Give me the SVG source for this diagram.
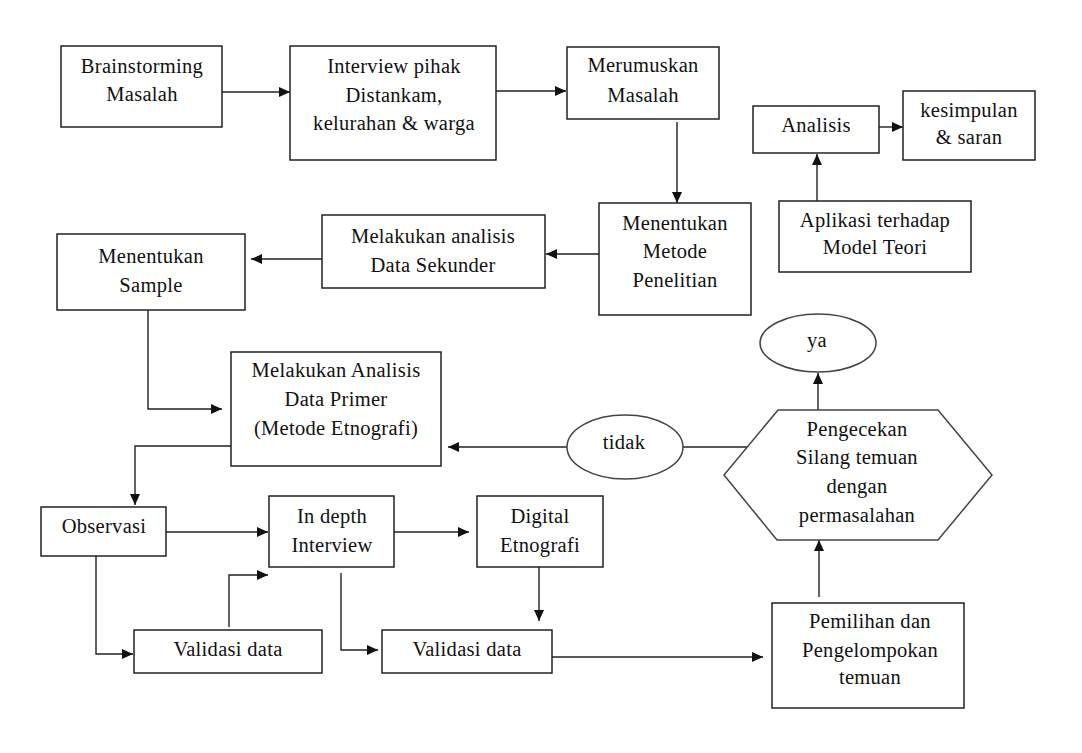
<svg xmlns="http://www.w3.org/2000/svg" width="1082" height="753" viewBox="0 0 1082 753">
<style>
.box{fill:#fff;stroke:#222;stroke-width:1.5}
.shape{fill:#fff;stroke:#444;stroke-width:1.5}
.t{font-family:"Liberation Serif","Times New Roman",serif;font-size:20.5px;letter-spacing:0.3px;fill:#111;text-anchor:middle}
.c{fill:none;stroke:#222;stroke-width:1.4}
.a{marker-end:url(#arr)}
</style>
<defs>
<marker id="arr" markerUnits="userSpaceOnUse" markerWidth="12" markerHeight="10" refX="11" refY="5" orient="auto">
<path d="M0,0 L11,5 L0,10 Z" fill="#111"/>
</marker>
</defs>
<rect width="1082" height="753" fill="#fff"/>
<g id="connectors">
<path class="c a" d="M222,92 H290"/>
<path class="c a" d="M496,91 H566"/>
<path class="c a" d="M677,122 V203"/>
<path class="c a" d="M599,254 H546"/>
<path class="c a" d="M322,259 H251"/>
<path class="c a" d="M148,310 V409 H222"/>
<path class="c a" d="M231,446 H135 V505"/>
<path class="c a" d="M567,447 H448"/>
<path class="c" d="M747,447 H683"/>
<path class="c a" d="M818,410 V373"/>
<path class="c a" d="M817,201 V154"/>
<path class="c a" d="M879,127 H903"/>
<path class="c a" d="M166,532 H268"/>
<path class="c a" d="M394,532 H469"/>
<path class="c a" d="M96,556 V654 H133"/>
<path class="c a" d="M229,627 V575 H268"/>
<path class="c a" d="M341,573 V650 H378"/>
<path class="c a" d="M539,567 V621"/>
<path class="c a" d="M552,657 H763"/>
<path class="c a" d="M819,597 V540"/>
</g>
<g id="brainstorming">
<rect class="box" x="61" y="46" width="161" height="81"/>
<text class="t" x="142" y="73">Brainstorming</text>
<text class="t" x="142" y="101">Masalah</text>
</g>
<g id="interview">
<rect class="box" x="290" y="46" width="206" height="114"/>
<text class="t" x="394" y="73">Interview pihak</text>
<text class="t" x="394" y="102">Distankam,</text>
<text class="t" x="394" y="130">kelurahan &amp; warga</text>
</g>
<g id="merumuskan">
<rect class="box" x="567" y="47" width="152" height="72"/>
<text class="t" x="643" y="72">Merumuskan</text>
<text class="t" x="643" y="102">Masalah</text>
</g>
<g id="metode">
<rect class="box" x="599" y="203" width="152" height="112"/>
<text class="t" x="675" y="230">Menentukan</text>
<text class="t" x="675" y="258">Metode</text>
<text class="t" x="675" y="287">Penelitian</text>
</g>
<g id="analisis">
<rect class="box" x="753" y="106" width="126" height="47"/>
<text class="t" x="816" y="132">Analisis</text>
</g>
<g id="kesimpulan">
<rect class="box" x="903" y="91" width="132" height="69"/>
<text class="t" x="969" y="117">kesimpulan</text>
<text class="t" x="969" y="144">&amp; saran</text>
</g>
<g id="aplikasi">
<rect class="box" x="779" y="201" width="192" height="71"/>
<text class="t" x="875" y="227">Aplikasi terhadap</text>
<text class="t" x="875" y="254">Model Teori</text>
</g>
<g id="sekunder">
<rect class="box" x="322" y="215" width="223" height="73"/>
<text class="t" x="433" y="243">Melakukan analisis</text>
<text class="t" x="433" y="272">Data Sekunder</text>
</g>
<g id="sample">
<rect class="box" x="57" y="234" width="188" height="76"/>
<text class="t" x="151" y="263">Menentukan</text>
<text class="t" x="151" y="292">Sample</text>
</g>
<g id="primer">
<rect class="box" x="231" y="352" width="210" height="114"/>
<text class="t" x="336" y="377">Melakukan Analisis</text>
<text class="t" x="336" y="406">Data Primer</text>
<text class="t" x="336" y="435">(Metode Etnografi)</text>
</g>
<g id="tidak">
<ellipse class="shape" cx="625" cy="447" rx="58" ry="32"/>
<text class="t" x="624" y="449">tidak</text>
</g>
<g id="ya">
<ellipse class="shape" cx="818" cy="343" rx="58" ry="29"/>
<text class="t" x="817" y="347">ya</text>
</g>
<g id="pengecekan">
<polygon class="shape" points="778,410 938,410 992,475 938,540 777,540 724,475"/>
<text class="t" x="857" y="436">Pengecekan</text>
<text class="t" x="857" y="464">Silang temuan</text>
<text class="t" x="857" y="493">dengan</text>
<text class="t" x="857" y="522">permasalahan</text>
</g>
<g id="observasi">
<rect class="box" x="41" y="507" width="125" height="49"/>
<text class="t" x="104" y="533">Observasi</text>
</g>
<g id="indepth">
<rect class="box" x="269" y="496" width="125" height="71"/>
<text class="t" x="332" y="523">In depth</text>
<text class="t" x="332" y="552">Interview</text>
</g>
<g id="digital">
<rect class="box" x="477" y="496" width="126" height="71"/>
<text class="t" x="540" y="523">Digital</text>
<text class="t" x="540" y="552">Etnografi</text>
</g>
<g id="validasi1">
<rect class="box" x="134" y="630" width="188" height="43"/>
<text class="t" x="228" y="656">Validasi data</text>
</g>
<g id="validasi2">
<rect class="box" x="382" y="630" width="170" height="43"/>
<text class="t" x="467" y="656">Validasi data</text>
</g>
<g id="pemilihan">
<rect class="box" x="772" y="603" width="192" height="105"/>
<text class="t" x="870" y="628">Pemilihan dan</text>
<text class="t" x="870" y="657">Pengelompokan</text>
<text class="t" x="870" y="684">temuan</text>
</g>
</svg>
